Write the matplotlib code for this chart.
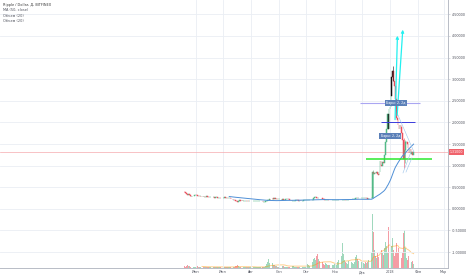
import numpy as np
import pandas as pd
import matplotlib
matplotlib.use("Agg")
import matplotlib.pyplot as plt
import matplotlib.dates as mdates

# daily closes, XRP/USD on Bitfinex
close_may = [0.38, 0.36, 0.35, 0.33, 0.34, 0.31, 0.29, 0.28, 0.30, 0.29, 0.30, 0.31]
close_jun = [0.32, 0.31, 0.30, 0.30, 0.29, 0.29, 0.28, 0.28, 0.29, 0.28,
             0.28, 0.27, 0.29, 0.28, 0.27, 0.27, 0.27, 0.28, 0.28, 0.27,
             0.27, 0.26, 0.27, 0.27, 0.26, 0.26, 0.26, 0.25, 0.26, 0.26]
close_jul = [0.26, 0.26, 0.27, 0.26, 0.26, 0.25, 0.25, 0.25, 0.24, 0.23,
             0.22, 0.21, 0.21, 0.20, 0.19, 0.17, 0.16, 0.19, 0.20, 0.19,
             0.19, 0.20, 0.19, 0.19, 0.19, 0.19, 0.18, 0.19, 0.18, 0.18, 0.18]
close_aug = [0.18, 0.18, 0.17, 0.17, 0.17, 0.17, 0.17, 0.17, 0.17, 0.17,
             0.17, 0.17, 0.17, 0.16, 0.16, 0.16, 0.17, 0.17, 0.20, 0.21,
             0.22, 0.21, 0.21, 0.21, 0.24, 0.23, 0.24, 0.23, 0.23, 0.22, 0.22]
close_sep = [0.22, 0.23, 0.22, 0.21, 0.22, 0.21, 0.21, 0.22, 0.22, 0.23,
             0.22, 0.21, 0.21, 0.20, 0.17, 0.19, 0.19, 0.19, 0.20, 0.21,
             0.20, 0.19, 0.19, 0.20, 0.19, 0.19, 0.19, 0.20, 0.20, 0.20]
close_oct = [0.20, 0.20, 0.20, 0.20, 0.20, 0.20, 0.20, 0.21, 0.24, 0.27,
             0.27, 0.26, 0.25, 0.26, 0.25, 0.25, 0.24, 0.24, 0.23, 0.22,
             0.21, 0.21, 0.21, 0.21, 0.20, 0.20, 0.20, 0.20, 0.20, 0.20, 0.20]
close_nov = [0.20, 0.20, 0.20, 0.21, 0.21, 0.20, 0.21, 0.21, 0.21, 0.21,
             0.21, 0.21, 0.20, 0.20, 0.20, 0.21, 0.21, 0.22, 0.22, 0.22,
             0.22, 0.22, 0.23, 0.25, 0.26, 0.25, 0.25, 0.26, 0.25, 0.24]
close_dec = [0.25, 0.25, 0.25, 0.25, 0.24, 0.24, 0.23, 0.23, 0.24, 0.24,
             0.25, 0.26, 0.85, 0.80, 0.84, 0.82, 0.86, 0.80, 0.78, 0.85,
             1.10, 1.02, 1.00, 1.08, 1.05, 1.25, 1.55, 1.85, 2.20, 1.85, 2.30]
close_jan = [2.35, 2.60, 3.05, 3.20, 2.95, 2.85, 2.55, 2.10, 2.05, 1.95,
             1.85, 1.95, 1.90, 1.75, 1.60, 1.15, 1.35, 1.55, 1.55, 1.50,
             1.40, 1.30, 1.38, 1.28, 1.32, 1.25, 1.31]
first_open = 0.40

# daily volume, millions
vol_may = [20, 15, 25, 30, 20, 25, 15, 10, 15, 10, 10, 15]
vol_jun = [15, 10, 20, 10, 10, 15, 10, 10, 20, 10,
           10, 10, 15, 10, 10, 10, 10, 10, 15, 10,
           10, 10, 10, 10, 10, 10, 10, 10, 15, 10]
vol_jul = [10, 10, 10, 10, 10, 10, 10, 10, 10, 10,
           15, 15, 10, 10, 20, 25, 30, 20, 15, 10,
           10, 10, 10, 10, 10, 10, 10, 10, 10, 10, 10]
vol_aug = [10, 10, 10, 10, 10, 10, 10, 10, 10, 10,
           10, 10, 15, 15, 15, 15, 20, 40, 60, 90,
           55, 40, 30, 25, 50, 35, 30, 20, 20, 15, 15]
vol_sep = [15, 15, 15, 15, 20, 20, 15, 15, 15, 15,
           15, 15, 20, 30, 40, 25, 20, 15, 15, 15,
           15, 15, 15, 15, 15, 15, 15, 15, 15, 15]
vol_oct = [30, 40, 30, 20, 20, 30, 40, 60, 90, 100,
           80, 120, 140, 90, 70, 60, 50, 40, 60, 40,
           30, 50, 40, 30, 35, 30, 40, 30, 25, 30, 35]
vol_nov = [40, 50, 30, 60, 80, 100, 60, 90, 120, 250,
           140, 80, 60, 50, 40, 70, 60, 80, 100, 60,
           50, 40, 60, 110, 130, 90, 70, 80, 60, 50]
vol_dec = [60, 70, 50, 40, 60, 50, 60, 80, 60, 50,
           100, 150, 540, 360, 180, 120, 100, 150, 110, 160,
           300, 480, 180, 150, 130, 200, 260, 220, 150, 410, 220]
vol_jan = [200, 250, 220, 300, 180, 120, 150, 250, 150, 200,
           150, 100, 120, 100, 150, 350, 380, 200, 100, 80,
           120, 100, 80, 70, 60, 70, 40]

# a few visible wicks
wick_dates = ["2017-12-13", "2018-01-04", "2018-01-16", "2018-01-17"]
wick_highs = [0.90, 3.30, 1.65, 1.60]
wick_lows = [0.24, 2.95, 0.95, 1.05]

# candles highlighted in black on the chart
black_dates = ["2017-12-30", "2018-01-03", "2018-01-04"]

month_ticks = ["2017-06-01", "2017-07-01", "2017-08-01", "2017-09-01", "2017-10-01",
               "2017-11-01", "2017-12-01", "2018-01-01", "2018-02-01", "2018-03-01"]
month_labels = ["Июн", "Июл", "Авг", "Сен", "Окт", "Ноя", "Дек", "2018", "Фев", "Мар"]
price_ticks = [-1.0, -0.5, 0.0, 0.5, 1.0, 1.5, 2.0, 2.5, 3.0, 3.5, 4.0, 4.5]

UP = "#53b987"
DOWN = "#eb4d5c"
GRID = "#eaeef4"
AXIS = "#b8bcc6"
TXT = "#50535e"

closes = close_may + close_jun + close_jul + close_aug + close_sep + close_oct + close_nov + close_dec + close_jan
volumes = vol_may + vol_jun + vol_jul + vol_aug + vol_sep + vol_oct + vol_nov + vol_dec + vol_jan
opens = [first_open] + closes[:-1]
dates = pd.date_range("2017-05-20", periods=len(closes), freq="D")
x = mdates.date2num(dates)
d = lambda s: mdates.date2num(pd.Timestamp(s))

black = set(mdates.date2num(pd.to_datetime(black_dates)))
colors = []
for xi, o, c in zip(x, opens, closes):
    if xi in black:
        colors.append("#111111")
    else:
        colors.append(UP if c >= o else DOWN)
vol_colors = [UP if c >= o else DOWN for o, c in zip(opens, closes)]

fig = plt.figure(figsize=(4.66, 2.75), dpi=100)
fig.patch.set_facecolor("white")
ax = fig.add_axes([0, 7 / 275, 448 / 466, 268 / 275])
axv = ax.twinx()
ax.set_zorder(axv.get_zorder() + 1)
ax.patch.set_visible(False)

jan1 = d("2018-01-01")
ax.set_xlim(jan1 - 429.5, jan1 + 63.9)
ax.set_ylim(-1.37, 4.833)

# volume
axv.bar(x, volumes, width=0.8, color=vol_colors, alpha=0.55, linewidth=0)
vol_ma = pd.Series(volumes).rolling(20).mean()
axv.plot(x, vol_ma, color="#ff9800", alpha=0.45, lw=0.7)
axv.set_ylim(0, 2680)
axv.set_yticks([])
for s in axv.spines.values():
    s.set_visible(False)

# grid
for v in price_ticks:
    ax.axhline(v, color=GRID, lw=0.6, zorder=0)
for m in month_ticks:
    ax.axvline(d(m), color=GRID, lw=0.6, zorder=0)

# candles
body = np.array(closes) - np.array(opens)
ax.bar(x, body, bottom=opens, width=0.75, color=colors, edgecolor=colors, linewidth=0.35, zorder=3)
wx = [d(s) for s in wick_dates]
wc = [colors[list(x).index(v)] for v in wx]
ax.vlines(wx, wick_lows, wick_highs, colors=wc, lw=0.4, zorder=3)

# MA 50
ma = pd.Series(closes).rolling(50).mean()
ax.plot(x, ma, color="#4f8fd6", lw=0.7, zorder=4)

# last price line and label
last = closes[-1]
ax.axhline(last, color="#f6a9ae", lw=0.5, zorder=1)
ax.text(1.004, last, f"{last:.5f}", transform=ax.get_yaxis_transform(), ha="left", va="center",
        fontsize=2.3, color="white", clip_on=False,
        bbox=dict(boxstyle="square,pad=0.35", fc="#f0626b", ec="none"))

# drawings
ax.hlines(2.45, jan1 - 33, jan1 + 33, color="#aaa6f2", lw=0.8, zorder=5)
ax.hlines(2.0, jan1 - 10, jan1 + 27.5, color="#3b3bdc", lw=0.7, zorder=5)
ax.hlines(1.164, jan1 - 26.4, jan1 + 46.3, color="#2ee82e", lw=1.1, zorder=5)
for (x0, y0, x1, y1) in [(8.8, 2.17, 26.4, 1.315), (14.3, 0.83, 23.1, 1.315), (17.6, 0.85, 24.2, 1.18)]:
    ax.plot([jan1 + x0, jan1 + x1], [y0, y1], color="#9cc3ea", lw=0.4, zorder=5)
for (x0, y0, x1, y1) in [(5.5, 2.0, 8.3, 4.07), (7.7, 2.1, 14.3, 4.21)]:
    ax.annotate("", xy=(jan1 + x1, y1), xytext=(jan1 + x0, y0),
                arrowprops=dict(arrowstyle="->", color="#22f0f0", lw=0.9, mutation_scale=4), zorder=6)
for (xd, yv) in [(6.6, 2.45), (0.5, 1.685)]:
    ax.text(jan1 + xd, yv, "Бары: 2, 2д", ha="center", va="center", fontsize=2.3, color="white", zorder=7,
            bbox=dict(boxstyle="square,pad=0.4", fc="#5b80b8", ec="none"))

# axes styling
ax.yaxis.tick_right()
ax.set_yticks(price_ticks)
ax.set_yticklabels([f"{v:.5f}" for v in price_ticks])
ax.set_xticks([d(m) for m in month_ticks])
ax.set_xticklabels(month_labels)
ax.tick_params(axis="y", length=1.5, width=0.4, pad=1.2, labelsize=2.4, colors=AXIS, labelcolor=TXT)
ax.tick_params(axis="x", length=0, pad=1.6, labelsize=2.4, labelcolor=TXT)
for s in ["top", "left"]:
    ax.spines[s].set_visible(False)
for s in ["right", "bottom"]:
    ax.spines[s].set_color(AXIS)
    ax.spines[s].set_linewidth(0.7)

# legend lines
legend = ["Ripple / Dollar, Д, BITFINEX", "MA (50, close)", "Объем (20)", "Объем (20)"]
for i, t in enumerate(legend):
    fig.text(3 / 466, 1 - (5 + 5.3 * i) / 275, t, fontsize=2.5, color="#333333" if i == 0 else TXT,
             va="center", ha="left")

fig.savefig("out.png", dpi=100, facecolor="white")
